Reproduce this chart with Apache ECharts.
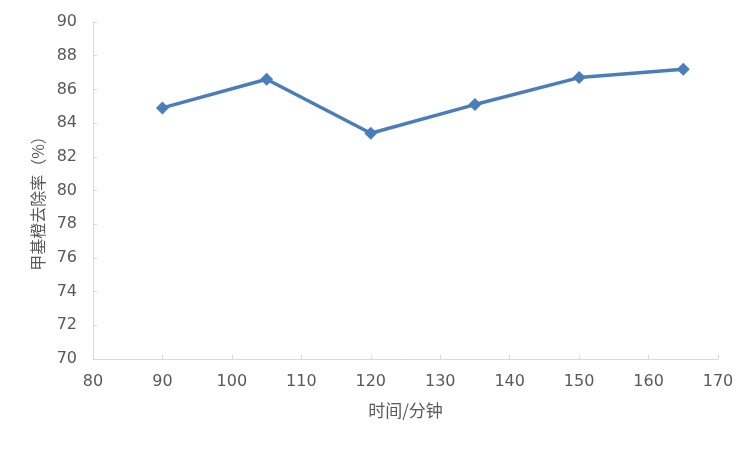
<!DOCTYPE html>
<html>
<head>
<meta charset="utf-8">
<script src="https://cdn.jsdelivr.net/npm/echarts@6/dist/echarts.min.js"></script>
<style>html,body{margin:0;padding:0;background:#fff}#c{width:756px;height:450px}</style>
</head>
<body>
<div id="c"></div>
<script>
const xValues = [90, 105, 120, 135, 150, 165];
const removalRate = [84.9, 86.6, 83.4, 85.1, 86.7, 87.2];
const xAxisName = '时间/分钟';
const yAxisName = '甲基橙去除率（%）';

const chart = echarts.init(document.getElementById('c'));
const axisText = { color: '#595959', fontSize: 16, fontFamily: 'DejaVu Sans, sans-serif' };
chart.setOption({
  animation: false,
  grid: { left: 93, right: 38, top: 22, bottom: 91 },
  xAxis: {
    type: 'value', min: 80, max: 170, interval: 10,
    name: xAxisName, nameLocation: 'middle', nameGap: 43,
    nameTextStyle: { color: '#595959', fontSize: 17, fontFamily: 'Noto Sans CJK SC' },
    axisLine: { lineStyle: { color: '#d9d9d9', width: 1 } },
    axisTick: { inside: true, length: 4, lineStyle: { color: '#d9d9d9' } },
    axisLabel: Object.assign({ margin: 15 }, axisText),
    splitLine: { show: false }
  },
  yAxis: {
    type: 'value', min: 70, max: 90, interval: 2,
    name: yAxisName, nameLocation: 'middle', nameGap: 46,
    nameTextStyle: { color: '#595959', fontSize: 16, fontFamily: 'Noto Sans CJK SC', padding: [0, 18, 0, 0] },
    axisLine: { show: true, lineStyle: { color: '#d9d9d9', width: 1 } },
    axisTick: { show: true, inside: true, length: 4, lineStyle: { color: '#d9d9d9' } },
    axisLabel: Object.assign({ margin: 16 }, axisText),
    splitLine: { show: false }
  },
  series: [{
    type: 'line',
    data: xValues.map((x, i) => [x, removalRate[i]]),
    symbol: 'diamond', symbolSize: 13,
    lineStyle: { color: '#4a7ebb', width: 3.5 },
    itemStyle: { color: '#4a7ebb' }
  }]
});
</script>
</body>
</html>
